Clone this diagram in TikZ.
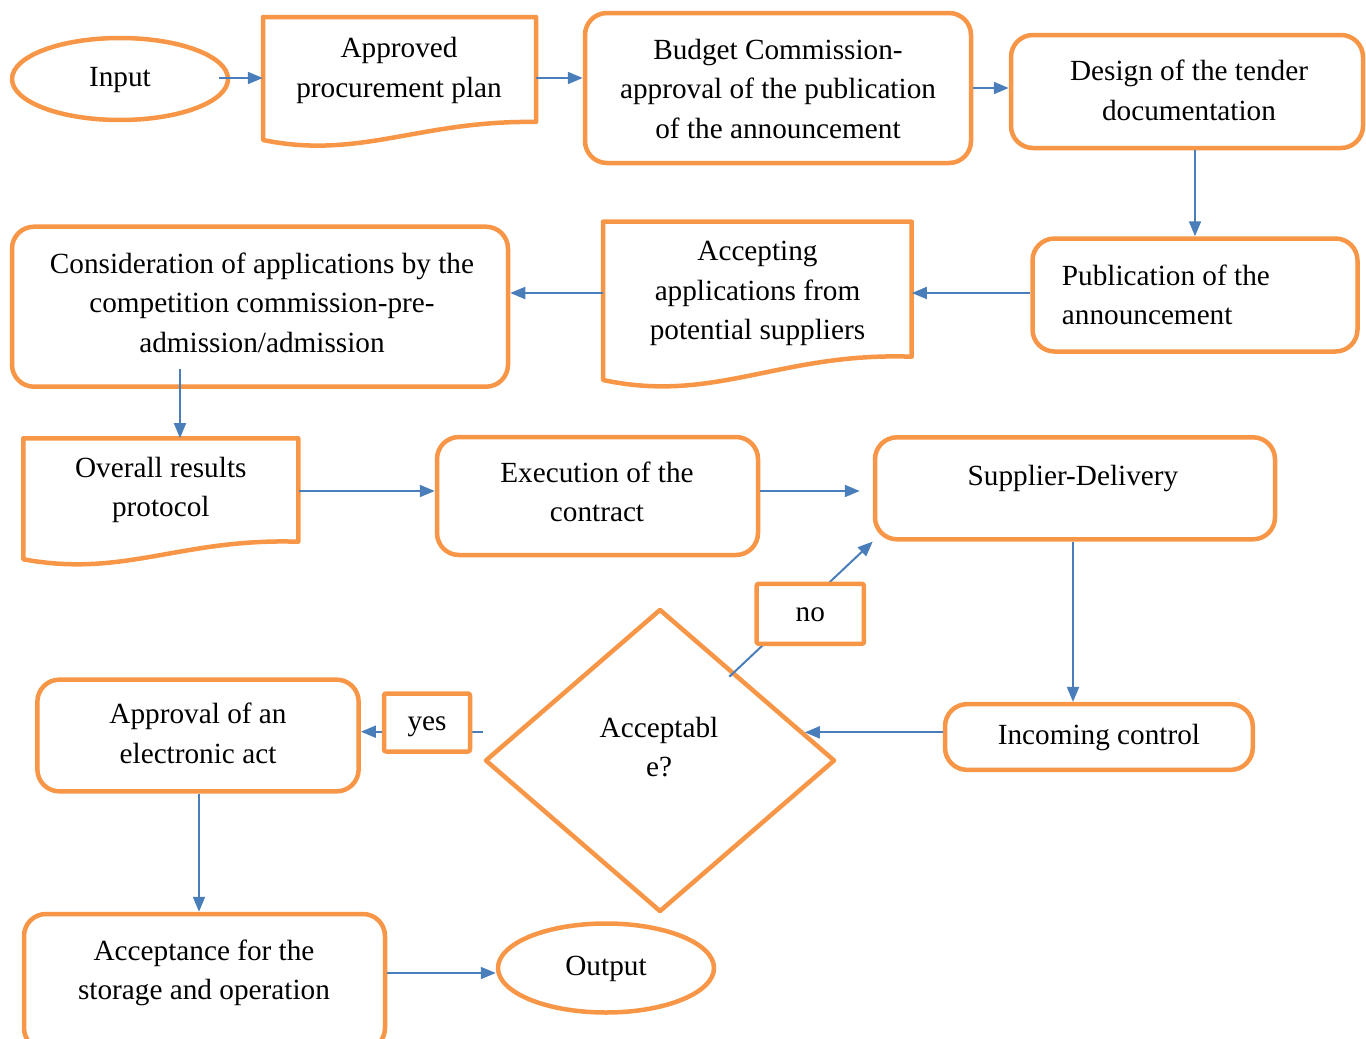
\documentclass[tikz,border=0pt]{standalone}
\usepackage{fontspec}
\setmainfont{Liberation Serif}
\usetikzlibrary{shapes.geometric,arrows.meta}
\definecolor{orn}{HTML}{F79646}
\definecolor{blu}{HTML}{4A7EBB}
\newcommand\figfont{\fontsize{29.25}{39.3}\selectfont}
\tikzset{
  shp/.style={draw=orn, line width=4.5pt, fill=white, inner sep=0pt, line join=round},
  rbox/.style={shp, rectangle, rounded corners=22pt},
  sq/.style={shp, rectangle, rounded corners=2pt},
  oval/.style={shp, ellipse},
  doc/.style={draw=orn, line width=4.5pt, fill=white, line join=round},
  area/.style={inner sep=0pt, rectangle},
  sz/.style 2 args={minimum width=#1pt, minimum height=#2pt},
  txt/.style={font=\figfont, align=center, inner sep=0pt},
  arr/.style={draw=blu, line width=2pt, -{Triangle[length=15pt,width=12pt]}},
}
\begin{document}
\begin{tikzpicture}[x=1pt,y=-1pt]
\useasboundingbox (0,0) rectangle (1366,1039);
\clip (0,0) rectangle (1366,1039);

% ---- row 1
\node[oval, txt, sz={216}{82}] (input) at (120,79) {\strut Input\strut};

\draw[doc] (263,140) -- (263,17) -- (536,17) -- (536,122) .. controls (420,120) and (360,160) .. (263,140) -- cycle;
\node[area, sz={273}{122}] (plan) at (399.5,78) {};
\node[txt] (planT) at (399,69.5) {\strut Approved\\procurement plan\strut};

\node[rbox, sz={386}{150}] (bud) at (778,88) {};
\node[txt] (budT) at (778,91) {\strut Budget Commission-\\approval of the publication\\of the announcement\strut};

\node[rbox, sz={352}{113}] (des) at (1187,91.5) {};
\node[txt] (desT) at (1189,92.5) {\strut Design of the tender\\documentation\strut};

% ---- row 2
\node[rbox, sz={325}{113}] (pub) at (1195,295) {};
\node[txt, align=left, anchor=west] (pubT) at (1061.7,296.8) {\strut Publication of the\\announcement\strut};

\draw[doc] (603,380) -- (603,221.7) -- (911.7,221.7) -- (911.7,356.7) .. controls (780,352) and (715,404) .. (603,380) -- cycle;
\node[area, sz={308.7}{158}] (acc) at (757.35,301) {};
\node[txt] (accT) at (757.5,292.3) {\strut Accepting\\applications from\\potential suppliers\strut};

\node[rbox, sz={496}{160}] (cons) at (260,306.7) {};
\node[txt] (consT) at (262,305) {\strut Consideration of applications by the\\competition commission-pre-\\admission/admission\strut};

% ---- row 3
\draw[doc] (23.3,559.3) -- (23.3,438.3) -- (298.3,438.3) -- (298.3,541.7) .. controls (180,538) and (125,578) .. (23.3,559.3) -- cycle;
\node[area, sz={275}{121}] (over) at (160.8,498.8) {};
\node[txt] (overT) at (160.8,489.3) {\strut Overall results\\protocol\strut};

\node[rbox, sz={321}{118}] (exe) at (597.5,496) {};
\node[txt] (exeT) at (597,493.8) {\strut Execution of the\\contract\strut};

\node[rbox, sz={400}{102}] (sup) at (1075,488.3) {};
\node[txt] (supT) at (1073,477.6) {\strut Supplier-Delivery\strut};

% ---- row 4
\node[rbox, txt, sz={307.7}{65.7}] (inc) at (1098.9,737) {\strut Incoming control\strut};
\node[shp, diamond, sz={350}{303}] (dia) at (660,760.5) {};
\node[txt] (diaT) at (659,749.3) {\strut Acceptabl\\e?\strut};
\node[rbox, txt, sz={321.3}{111.7}] (appr) at (198,735.5) {\strut Approval of an\\electronic act\strut};

% ---- row 5
\node[rbox, sz={361}{136}] (fin) at (204.5,982) {};
\node[txt] (finT) at (204,972.3) {\strut Acceptance for the\\storage and operation\strut};
\node[oval, txt, sz={216}{89}] (out) at (606,968) {\strut Output\strut};

% ---- connectors
\coordinate (inS) at ([xshift=-11pt,yshift=1pt]input.east);
\draw[arr] (inS) -- (inS -| plan.west);
\draw[arr] (plan.east |- inS) -- (inS -| bud.west);
\draw[arr] (bud.east) -- (bud.east -| des.west);
\draw[arr] (pub.north |- des.south) -- (pub.north);
\coordinate (pubOut) at ([yshift=2pt]pub.west);
\draw[arr] (pubOut) -- (pubOut -| acc.east);
\draw[arr] (acc.west |- pubOut) -- (cons.east |- pubOut);
\coordinate (consS) at ([xshift=-80pt,yshift=20pt]cons.south);
\draw[arr] (consS) -- (consS |- over.north);
\coordinate (exeIn) at ([yshift=5pt]exe.west);
\draw[arr] (over.east |- exeIn) -- (exeIn);
\coordinate (exeOut) at ([yshift=5pt]exe.east);
\coordinate (supIn) at ([xshift=-13pt]sup.west);
\draw[arr] (exeOut) -- (exeOut -| supIn);
\draw[arr] ([xshift=-2pt]sup.south) -- ([xshift=-2pt]sup.south |- inc.north);
\coordinate (diaIn) at (dia.11.1);
\draw[arr] (diaIn -| inc.west) -- (diaIn);
\coordinate (yesS) at ([yshift=28.8pt]dia.west);
\draw[arr] (yesS) -- (yesS -| appr.east);
\coordinate (noS) at ([xshift=69.3pt,yshift=-70pt]dia.north);
\draw[arr] (noS) -- (sup.south west);
\draw[arr] ([xshift=1pt]appr.south) -- ([xshift=1pt]appr.south |- fin.north);
\coordinate (outIn) at ([yshift=-5pt]out.west);
\draw[arr] (fin.east |- outIn) -- (outIn);

% ---- label boxes on top of their lines
\node[sq, txt, sz={107.3}{60}] (no) at (810.3,613.8) {\strut no\strut};
\node[sq, txt, sz={86}{58}] (yes) at (427,722.5) {\strut yes\strut};
\end{tikzpicture}
\end{document}
